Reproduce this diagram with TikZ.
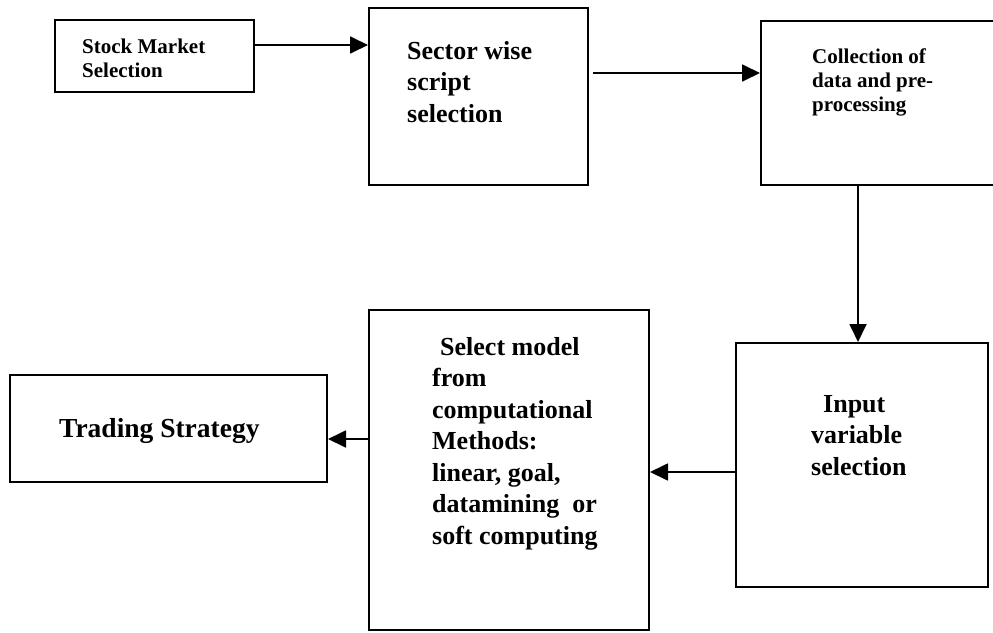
\documentclass[tikz,border=0pt]{standalone}
\usepackage{fontspec}
\setmainfont{Liberation Serif}
\usetikzlibrary{arrows.meta,positioning}
\tikzset{blockbox/.style={draw, line width=2pt, inner sep=0pt},
  blocktext/.style={inner sep=0pt, align=left, font=\bfseries\fontsize{21}{24}\selectfont},
  bigtext/.style={inner sep=0pt, align=left, font=\bfseries\fontsize{26}{31.5}\selectfont},
  flow/.style={line width=1.8pt, -{Triangle[length=18pt, width=17pt]}}}

\begin{document}
\begin{tikzpicture}[x=1pt, y=-1pt]
    \useasboundingbox (0,0) rectangle (993,632);
    % boxes
    \node[blockbox, minimum width=199pt, minimum height=72pt] (stock) at (154.5,56) {};
    \node[blockbox, minimum width=219pt, minimum height=177pt] (sector) at (478.5,96.5) {};
    \node[blockbox, minimum width=269pt, minimum height=164pt] (collect) at (895.5,103) {};
    \node[blockbox, minimum width=252pt, minimum height=244pt] (input) at (862,465) {};
    \node[blockbox, minimum width=280pt, minimum height=320pt] (select) at (509,470) {};
    \node[blockbox, minimum width=317pt, minimum height=107pt] (trade) at (168.5,428.5) {};
    % texts
    \node[blocktext, anchor=north west] (stocktxt) at (82,39) {Stock Market\\Selection};
    \node[bigtext, anchor=north west] (sectortxt) at (407,41) {Sector wise\\script\\selection};
    \node[blocktext, anchor=north west] (collecttxt) at (812,49) {Collection of\\data and pre-\\processing};
    \node[bigtext, anchor=north west] (inputtxt) at (811,395) {\hspace*{12pt}Input\\variable\\selection};
    \node[bigtext, anchor=north west] (selecttxt) at (432,337) {\hspace*{8pt}Select model\\from\\computational\\Methods:\\linear, goal,\\datamining\ \ or\\soft computing};
    \node[bigtext, font=\bfseries\fontsize{27.5}{31.5}\selectfont, anchor=base west] (tradetxt) at (59,437) {Trading Strategy};
    % arrows
    \coordinate (a1) at ([yshift=11pt]stock.east);
    \draw[flow] (a1) -- (a1 -| sector.west);
    \coordinate (a2) at ([xshift=4pt, yshift=23.5pt]sector.east);
    \draw[flow] (a2) -- (a2 -| collect.west);
    \coordinate (a3) at ([xshift=-37.5pt]collect.south);
    \draw[flow] (a3) -- (a3 |- input.north);
    \coordinate (a4) at ([yshift=-7pt]input.west);
    \draw[flow] (a4) -- (a4 -| select.east);
    \coordinate (a5) at ([yshift=31pt]select.west);
    \draw[flow] (a5) -- (a5 -| trade.east);
\end{tikzpicture}
\end{document}
